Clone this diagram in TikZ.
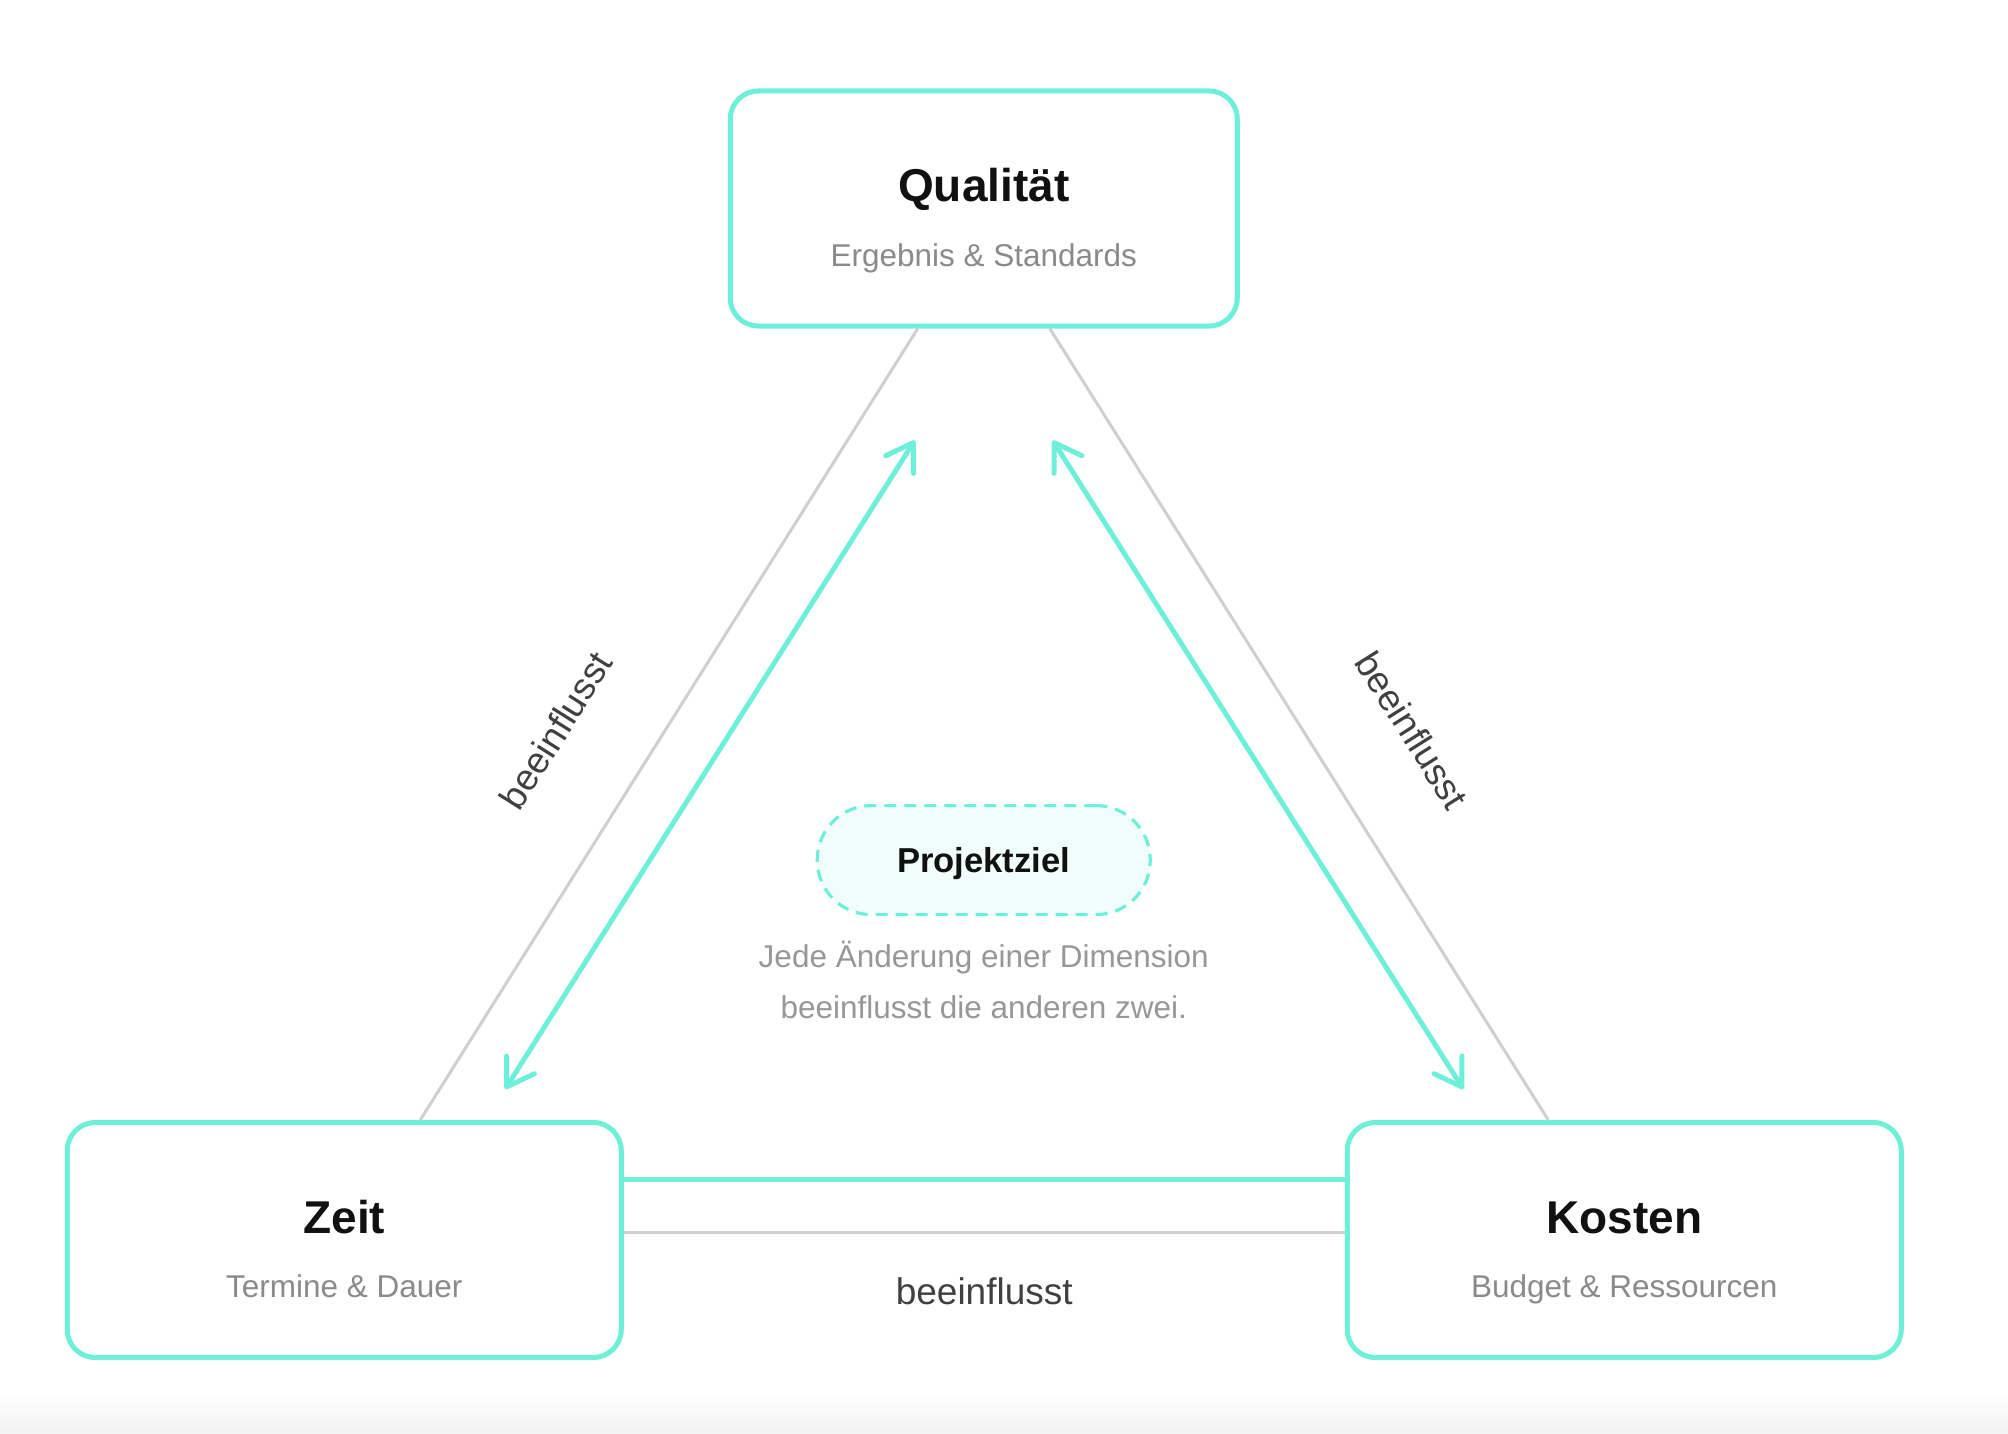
\documentclass[tikz,border=0pt]{standalone}
\usepackage{fontspec}
\setmainfont{Liberation Sans}
\usetikzlibrary{arrows.meta,positioning,calc}

\definecolor{mint}{HTML}{6DEFDA}
\definecolor{mintbg}{HTML}{F0FDFB}
\definecolor{linkgray}{HTML}{CFCFCF}
\definecolor{subgray}{HTML}{8A8A8A}
\definecolor{notegray}{HTML}{979797}
\definecolor{labelgray}{HTML}{404040}
\definecolor{titleblack}{HTML}{111111}

\begin{document}
\begin{tikzpicture}[
  x=0.5pt, y=-0.5pt,
  box/.style={draw=mint,line width=2.5pt,rounded corners=14pt,fill=white,minimum height=117.5pt},
  ttl/.style={anchor=base,inner sep=0pt,text=titleblack,font=\fontsize{23pt}{27pt}\selectfont\bfseries},
  sub/.style={anchor=base,inner sep=0pt,text=subgray,font=\fontsize{15.75pt}{19pt}\selectfont},
  goal/.style={draw=mint,dash pattern=on 6pt off 4pt,line width=1.6pt,fill=mintbg,rounded corners=27pt,minimum width=166.5pt,minimum height=54.5pt,text depth=0pt,text=titleblack,font=\fontsize{17.3pt}{20pt}\selectfont\bfseries},
  note/.style={align=center,inner sep=0pt,text=notegray,font=\fontsize{15.75pt}{25.5pt}\selectfont},
  link/.style={draw=linkgray,line width=1.5pt},
  lbl/.style={inner sep=0pt,text=labelgray,font=\fontsize{18.5pt}{22pt}\selectfont},
  tradeoff/.style={draw=mint,line width=2.5pt,line cap=round},
  arrow/.style={tradeoff,{Straight Barb[round,length=13pt,width=16.5pt]}-{Straight Barb[round,length=13pt,width=16.5pt]}}
]
  \useasboundingbox (0,0) rectangle (2008,1434);
  \shade[top color=white,bottom color=black!5] (0,1392) rectangle (2008,1434);

  % the three corners
  \node[box,minimum width=253.5pt] (qual) at (983.75,208.5) {};
  \node[box,minimum width=277pt,below left=395.75pt and 52pt of qual] (zeit) {};
  \node[box,minimum width=277pt,right=360.5pt of zeit] (kosten) {};
  \node[ttl] (qualT) at ([yshift=3.5pt]qual.center) {Qualität};
  \node[sub] (qualS) at ([yshift=-28.75pt]qual.center) {Ergebnis \& Standards};
  \node[ttl] (zeitT) at ([yshift=3.5pt]zeit.center) {Zeit};
  \node[sub] (zeitS) at ([yshift=-28.75pt]zeit.center) {Termine \& Dauer};
  \node[ttl] (kostenT) at ([yshift=3.5pt]kosten.center) {Kosten};
  \node[sub] (kostenS) at ([yshift=-28.75pt]kosten.center) {Budget \& Ressourcen};

  % centre
  \node[goal,below=237.75pt of qual] (goal) {Projektziel};
  \node[note,below=12.5pt of goal] (note) {Jede Änderung einer Dimension\\beeinflusst die anderen zwei.};

  % links
  \draw[link] ($(zeit.north)+(76,0)$) -- node[lbl,pos=.43,sloped,above=38.75pt] (lblL) {beeinflusst} ($(qual.south)+(-66,0)$);
  \draw[link] ($(qual.south)+(66,0)$) -- node[lbl,pos=.57,sloped,above=38.75pt] (lblR) {beeinflusst} ($(kosten.north)+(-76,0)$);
  \draw[link] ($(zeit.east)+(0,-8)$) -- node[lbl,below=22pt] (lblB) {beeinflusst} ($(kosten.west)+(0,-8)$);
  \draw[tradeoff] ($(zeit.east)+(0,-61)$) -- ($(kosten.west)+(0,-61)$);
  \draw[arrow] ($(zeit.north)+(161,-31)$) -- ($(qual.south)+(-69,112)$);
  \draw[arrow] ($(qual.south)+(69,112)$) -- ($(kosten.north)+(-161,-31)$);
\end{tikzpicture}
\end{document}
